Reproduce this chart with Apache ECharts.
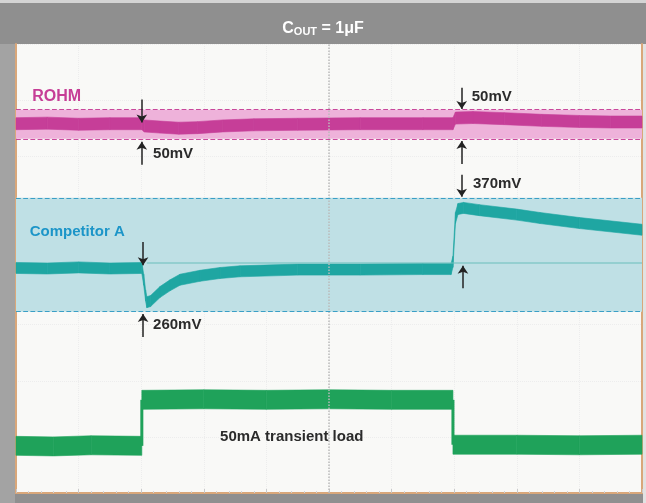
<!DOCTYPE html>
<html>
<head>
<meta charset="utf-8">
<title>COUT = 1uF load transient</title>
<script src="https://cdn.jsdelivr.net/npm/echarts@6/dist/echarts.min.js"></script>
<style>
  html, body { margin: 0; padding: 0; background: #8f8f8f; }
  #chart { width: 646px; height: 503px; }
</style>
</head>
<body>
<div id="chart"></div>
<script>
// scope divisions: x 0..10, y 0..8 (from bottom)
const rohmTrace = [
    [0, 6.58], [0.5, 6.59], [1.0, 6.57], [1.5, 6.58], [2.01, 6.58],
    [2.05, 6.54], [2.3, 6.52], [2.6, 6.5], [2.9, 6.51], [3.3, 6.54],
    [3.8, 6.56], [4.5, 6.57], [5.5, 6.58], [6.5, 6.58], [6.98, 6.58],
    [7.02, 6.68], [7.3, 6.69], [7.8, 6.67], [8.4, 6.64], [9.0, 6.62],
    [9.5, 6.61], [10, 6.61]
];
const rohmBand = [6.31, 6.83];

const compTrace = [
    [0, 4.01], [0.5, 4.0], [1.0, 4.02], [1.5, 4.0], [2.01, 4.01],
    [2.04, 3.8], [2.07, 3.52], [2.09, 3.4], [2.15, 3.42], [2.3, 3.58],
    [2.46, 3.7], [2.62, 3.8], [2.94, 3.87], [3.26, 3.92], [3.58, 3.95],
    [4.5, 3.98], [5.5, 3.98], [6.5, 3.99], [6.95, 3.99], [6.98, 4.12],
    [7.02, 4.9], [7.06, 5.06], [7.15, 5.08], [7.4, 5.04], [8.0, 4.96],
    [8.37, 4.9], [9.0, 4.81], [10, 4.69]
];
const compRef = [[2.09, 4.1], [10, 4.1]];
const compBand = [3.23, 5.26];

const loadTrace = [
    [0, 0.84], [0.6, 0.83], [1.2, 0.85], [2.01, 0.84],
    [2.01, 1.66], [3.0, 1.67], [4.0, 1.66], [5.0, 1.67], [6.0, 1.66], [6.98, 1.66],
    [6.98, 0.86], [8.0, 0.86], [9.0, 0.85], [10, 0.86]
];

const chart = echarts.init(document.getElementById("chart"));

const arrowLine = (x, y0, y1) => [{ coord: [x, y0] }, { coord: [x, y1] }];
const note = (x, y, text, color, size) => ({
    coord: [x, y],
    label: { formatter: text, color: color, fontSize: size }
});

// noisy scope trace: vertical thickness h px, thin line on vertical steps
const scopeTrace = (name, data, color, h) => ({
    name: name,
    type: "custom",
    data: data,
    encode: { x: 0, y: 1 },
    silent: true,
    renderItem: (params, api) => {
        const i = params.dataIndex;
        if (i >= data.length - 1) return;
        const a = api.coord(data[i]);
        const b = api.coord(data[i + 1]);
        if (Math.abs(b[0] - a[0]) < 1) {
            return {
                type: "line",
                shape: { x1: a[0], y1: a[1], x2: b[0], y2: b[1] },
                style: { stroke: color, lineWidth: 3 }
            };
        }
        return {
            type: "polygon",
            shape: {
                points: [
                    [a[0], a[1] - h / 2], [b[0], b[1] - h / 2],
                    [b[0], b[1] + h / 2], [a[0], a[1] + h / 2]
                ]
            },
            style: { fill: color, stroke: color, lineWidth: 0.6 }
        };
    }
});

const bandSeries = (name, band, fill, edge) => ({
    name: name,
    type: "line",
    data: [],
    silent: true,
    markArea: {
        silent: true,
        itemStyle: { color: fill },
        data: [[{ yAxis: band[0] }, { yAxis: band[1] }]]
    },
    markLine: {
        silent: true,
        symbol: "none",
        label: { show: false },
        lineStyle: { color: edge, type: "dashed", width: 1.2 },
        data: [{ yAxis: band[0] }, { yAxis: band[1] }]
    }
});

const option = {
    backgroundColor: "#8f8f8f",
    animation: false,
    title: {
        text: "{c|C}{s|OUT}{c| = 1μF}",
        left: "center",
        top: 12,
        textStyle: {
            rich: {
                c: { color: "#ffffff", fontSize: 16, fontWeight: "bold", fontFamily: "Liberation Sans", verticalAlign: "bottom", lineHeight: 20 },
                s: { color: "#ffffff", fontSize: 11, fontWeight: "bold", fontFamily: "Liberation Sans", verticalAlign: "bottom", lineHeight: 17 }
            }
        }
    },
    graphic: [
        { type: "rect", shape: { x: 0, y: 44, width: 15, height: 459 }, style: { fill: "#a3a3a3" }, z: -1 },
        { type: "rect", shape: { x: 643, y: 44, width: 3, height: 459 }, style: { fill: "#e2e2e2" }, z: -1 },
        { type: "rect", shape: { x: 0, y: 0, width: 646, height: 3 }, style: { fill: "#d4d4d4" }, z: -1 }
    ],
    grid: {
        left: 16, right: 4, top: 44, bottom: 10,
        show: true, backgroundColor: "#f9f9f7", borderWidth: 0
    },
    xAxis: {
        type: "value", min: 0, max: 10, interval: 1,
        axisLine: { lineStyle: { color: "#d9a77a", width: 2 } },
        axisTick: { show: true, inside: true, length: 4, lineStyle: { color: "#c9c9c9" } },
        minorTick: { show: true, splitNumber: 5, length: 2, lineStyle: { color: "#d6d6d6" } },
        axisLabel: { show: false },
        splitLine: { show: true, lineStyle: { color: "#ededed", type: "dotted" } }
    },
    yAxis: [
        {
            type: "value", min: 0, max: 8, interval: 1,
            axisLine: { show: true, lineStyle: { color: "#d9a77a", width: 2 } },
            axisTick: { show: false },
            axisLabel: { show: false },
            splitLine: { show: true, lineStyle: { color: "#ededed", type: "dotted" } }
        },
        {
            type: "value", min: 0, max: 8, position: "right",
            axisLine: { show: true, lineStyle: { color: "#d9a77a", width: 2 } },
            axisTick: { show: false },
            axisLabel: { show: false },
            splitLine: { show: false }
        }
    ],
    series: [
        {
            name: "center",
            type: "line",
            data: [],
            silent: true,
            markLine: {
                symbol: "none",
                label: { show: false },
                lineStyle: { color: "#bbbbbb", type: "dotted", width: 1.5 },
                data: [{ xAxis: 5 }]
            }
        },
        bandSeries("ROHM band", rohmBand, "#eeb2da", "#c9489c"),
        bandSeries("Competitor A band", compBand, "#bfe0e5", "#3a9fc6"),
        {
            name: "ref",
            type: "line",
            data: compRef,
            showSymbol: false,
            silent: true,
            lineStyle: { color: "#6cc0bc", width: 1.5, opacity: 0.7 }
        },
        scopeTrace("ROHM", rohmTrace, "#c63e98", 12),
        scopeTrace("Competitor A", compTrace, "#1fa6a2", 11),
        scopeTrace("load", loadTrace, "#1fa25a", 19),
        {
            name: "notes",
            type: "line",
            data: [],
            silent: true,
            markLine: {
                silent: true,
                symbol: ["none", "arrow"],
                symbolSize: 8,
                label: { show: false },
                lineStyle: { color: "#222222", type: "solid", width: 1.5 },
                data: [
                    arrowLine(2.01, 7.01, 6.6),
                    arrowLine(2.01, 5.85, 6.26),
                    arrowLine(7.12, 7.22, 6.84),
                    arrowLine(7.12, 5.86, 6.27),
                    arrowLine(7.12, 5.67, 5.28),
                    arrowLine(7.14, 3.65, 4.05),
                    arrowLine(2.03, 4.47, 4.06),
                    arrowLine(2.03, 2.78, 3.19)
                ]
            },
            markPoint: {
                silent: true,
                symbolSize: 0,
                label: {
                    show: true, position: "right", distance: 0,
                    fontFamily: "Liberation Sans", fontWeight: "bold"
                },
                data: [
                    note(0.26, 7.06, "ROHM", "#c63e96", 16),
                    note(0.22, 4.65, "Competitor A", "#1c95c8", 15),
                    note(2.19, 6.04, "50mV", "#2b2b2b", 15),
                    note(7.28, 7.06, "50mV", "#2b2b2b", 15),
                    note(7.3, 5.51, "370mV", "#2b2b2b", 15),
                    note(2.19, 2.99, "260mV", "#2b2b2b", 15),
                    note(3.26, 1.0, "50mA transient load", "#2b2b2b", 15)
                ]
            }
        }
    ]
};

chart.setOption(option);
</script>
</body>
</html>
